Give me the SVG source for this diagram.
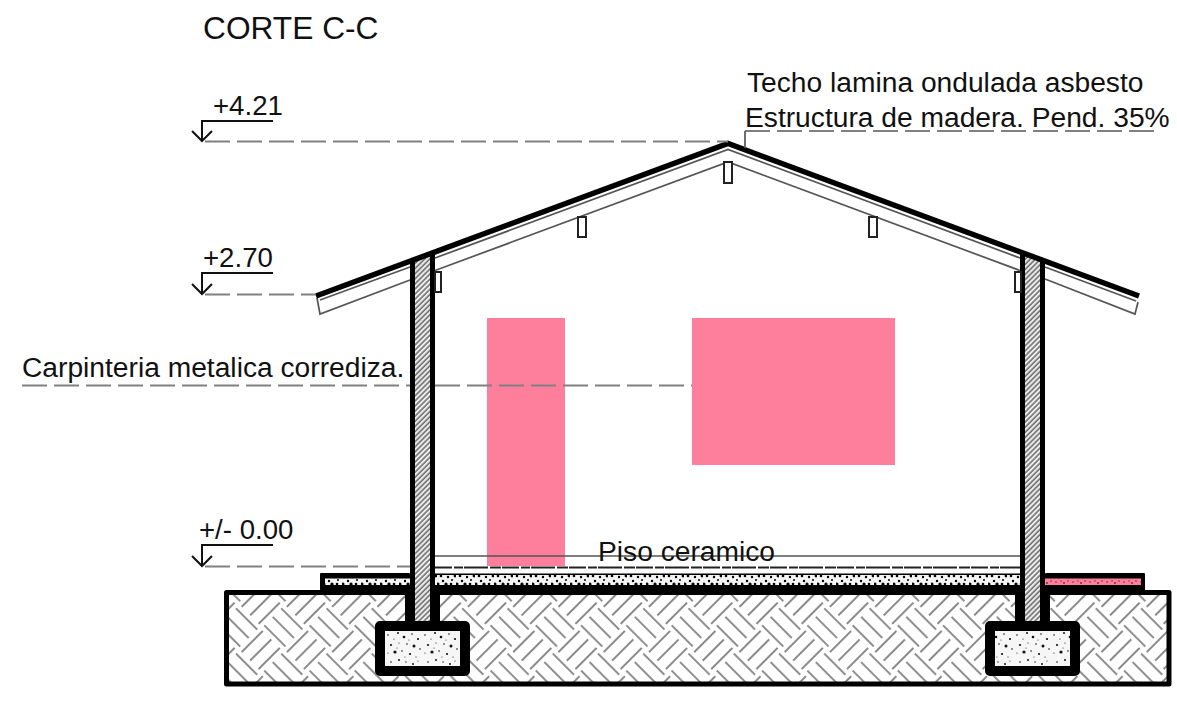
<svg xmlns="http://www.w3.org/2000/svg" width="1177" height="707" viewBox="0 0 1177 707">
<style>
text{font-family:"Liberation Sans",Arial,sans-serif;fill:#111}
.t{font-size:28.2px}
.n{font-size:27.6px}
.blk{fill:#000}
.dash{fill:none;stroke:#808080;stroke-width:2;stroke-dasharray:25 7}
.lvl{fill:none;stroke:#111;stroke-width:2}
.g{fill:none;stroke:#555;stroke-width:1.7}
.pink{fill:#fe7f9c}
</style>
<defs>
<pattern id="weave" patternUnits="userSpaceOnUse" width="64" height="64" patternTransform="translate(487 627.400) rotate(45)">
<rect width="64" height="64" fill="#fff"/>
<path stroke="#222" stroke-width="1.050" fill="none" d="M4 1V31M16 1V31M28 1V31M36 33V63M48 33V63M60 33V63M33 4H63M33 16H63M33 28H63M1 36H31M1 48H31M1 60H31"/>
</pattern>
<pattern id="hatch" patternUnits="userSpaceOnUse" width="3.600" height="3.600" patternTransform="rotate(-45)">
<rect width="4" height="4" fill="#ececec"/>
<path d="M0 1H4" stroke="#555" stroke-width="1.300"/>
</pattern>
<pattern id="stip" patternUnits="userSpaceOnUse" width="37" height="35" patternTransform="translate(385 631)">
<rect width="37" height="35" fill="#f6f6f6"/>
<g fill="#111"><circle cx="3" cy="4" r=".8"/><circle cx="9" cy="8" r=".6"/><circle cx="13" cy="2" r="1"/><circle cx="19" cy="6" r="1.300"/><circle cx="27" cy="3" r=".8"/><circle cx="33" cy="8" r="1.100"/><circle cx="6" cy="14" r="1.100"/><circle cx="14" cy="12" r=".6"/><circle cx="22" cy="13" r=".8"/><circle cx="29" cy="15" r="1.500"/><circle cx="35" cy="18" r=".8"/><circle cx="3" cy="22" r=".6"/><circle cx="10" cy="21" r="1.600"/><circle cx="17" cy="20" r=".8"/><circle cx="25" cy="23" r="1.100"/><circle cx="31" cy="26" r=".6"/><circle cx="6" cy="31" r=".8"/><circle cx="14" cy="29" r="1"/><circle cx="21" cy="31" r=".7"/><circle cx="28" cy="33" r="1"/><circle cx="24" cy="9" r=".5"/><circle cx="12" cy="17" r=".5"/><circle cx="33" cy="30" r=".6"/><circle cx="20" cy="26" r=".5"/></g>
</pattern>
<pattern id="stipB" patternUnits="userSpaceOnUse" width="19" height="10" patternTransform="translate(0 575)">
<rect width="19" height="10" fill="#f4f4f4"/>
<g fill="#000"><circle cx="1" cy="9" r="1.500"/><circle cx="4" cy="1" r="1.300"/><circle cx="6" cy="6" r="1.200"/><circle cx="9" cy="9" r="1.600"/><circle cx="11" cy="2" r="1.200"/><circle cx="14" cy="9" r="1.300"/><circle cx="15" cy="5" r="1"/><circle cx="18" cy="1" r="1.400"/></g>
</pattern>
<pattern id="stipP" patternUnits="userSpaceOnUse" width="17" height="7" patternTransform="translate(0 578)">
<rect width="17" height="7" fill="#fe7f9c"/>
<g fill="#7a2238"><circle cx="2" cy="4" r=".8"/><circle cx="7" cy="3" r=".7"/><circle cx="10" cy="5" r=".9"/><circle cx="14" cy="3" r=".8"/></g>
</pattern>
</defs>

<g id="carpinteria">
<rect class="pink" x="487" y="318" width="78" height="248"/>
<rect class="pink" x="692" y="318" width="203" height="147"/>
</g>

<g id="suelo">
<rect x="226.500" y="592.500" width="942.500" height="91.500" fill="url(#weave)" stroke="#000" stroke-width="5" stroke-linejoin="round"/>
</g>

<g id="piso">
<path class="g" d="M435 556H1020"/>
<path d="M435 567.500H1020" stroke="#222" stroke-width="2.200" stroke-dasharray="17 2 9 1 24 2 11 1" fill="none"/>
<rect x="320" y="573" width="90" height="22" rx="1" class="blk"/>
<rect x="1045" y="573" width="100" height="22" rx="1" class="blk"/>
<rect x="410" y="573.500" width="635" height="21.500" class="blk"/>
<rect x="325" y="578.500" width="85" height="6.500" fill="url(#stipB)"/>
<rect x="435" y="575" width="585" height="10" fill="url(#stipB)"/>
<rect x="1045" y="578.500" width="96" height="6.500" fill="url(#stipP)"/>
</g>

<g id="muro-izq">
<path class="blk" d="M410 262L435 253V592H440V625H405V592H410Z"/>
<path fill="url(#hatch)" d="M415 259L430 254V621H415Z"/>
<rect x="380" y="626" width="85" height="45" fill="url(#stip)" stroke="#000" stroke-width="10" stroke-linejoin="round"/>
</g>
<g id="muro-der">
<path class="blk" d="M1020 252L1045 262V592H1050V625H1015V592H1020Z"/>
<path fill="url(#hatch)" d="M1025 254L1040 259V621H1025Z"/>
<rect x="990" y="626" width="85" height="45" fill="url(#stip)" stroke="#000" stroke-width="10" stroke-linejoin="round"/>
</g>

<g id="cubierta">
<path class="g" d="M320 300L410 267M435 258L728 149.500L1020 258M1045 267L1136 301"/>
<path class="g" d="M317 298L320 314L410 280M435 270.500L728 162L1020 270.500M1045 279L1135 314L1138 302"/>
<g fill="#fff" stroke="#222" stroke-width="2">
<rect x="724" y="162" width="8" height="21"/>
<rect x="578" y="217" width="8" height="20"/>
<rect x="869" y="217" width="8" height="20"/>
<rect x="435" y="272" width="6" height="20"/>
<rect x="1015" y="272" width="6" height="20"/>
</g>
<path d="M316 296L728 143.500L1139 296" fill="none" stroke="#000" stroke-width="5.500" stroke-linejoin="miter"/>
</g>

<g id="conectores">
<path class="dash" d="M205 141.500H728"/>
<path class="dash" d="M205 294.500H316"/>
<path class="dash" d="M205 566.500H410"/>
<path class="dash" d="M22 385.500H410M435 385.500H692"/>
<path class="dash" d="M745 131H1155"/>
<path class="g" d="M745 131V148"/>
<path class="lvl" d="M273 121H202V141M192 131L202 141L212 131"/>
<path class="lvl" d="M273 273H202V294M192 284L202 294L212 284"/>
<path class="lvl" d="M273 545H202V566M192 556L202 566L212 556"/>
</g>

<g id="textos">
<text x="203" y="39" style="font-size:31.700px">CORTE C-C</text>
<text class="t" x="747" y="92">Techo lamina ondulada asbesto</text>
<text class="t" x="745" y="127">Estructura de madera. Pend. 35%</text>
<text class="n" x="213" y="115">+4.21</text>
<text class="n" x="203" y="267">+2.70</text>
<text class="n" x="199" y="539">+/- 0.00</text>
<text class="t" x="22" y="377">Carpinteria metalica corrediza.</text>
<text class="t" x="598" y="561">Piso ceramico</text>
</g>
</svg>
